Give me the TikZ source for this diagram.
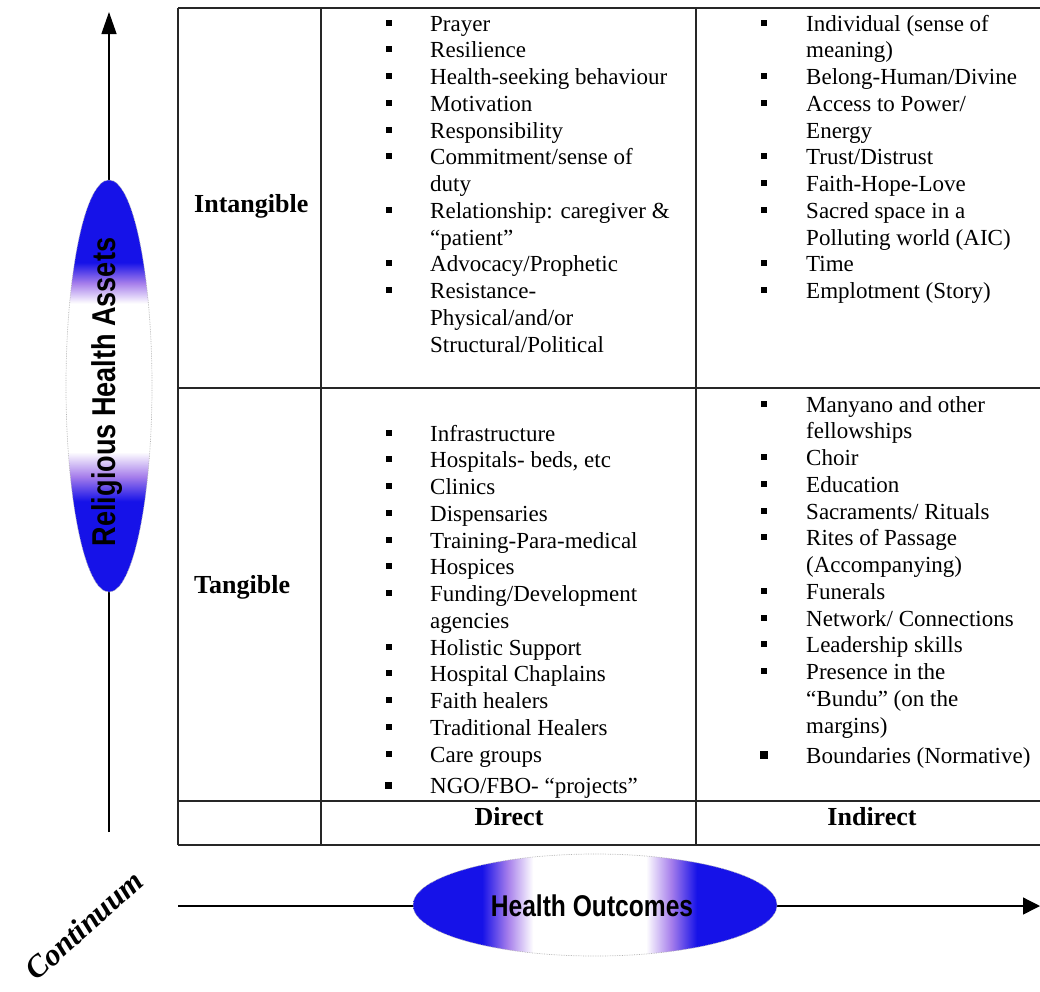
\documentclass[tikz,border=0pt]{standalone}
\usepackage{fontspec}
\setmainfont{Liberation Serif}
\newfontfamily\narrowsans[FakeStretch=0.82]{Liberation Sans}
\usetikzlibrary{shapes.geometric,arrows.meta}
\definecolor{hb}{RGB}{22,18,232}
\definecolor{hmid}{RGB}{165,125,235}
\pgfdeclareverticalshading{rhaV}{100bp}{color(0bp)=(hb); color(36bp)=(hb); color(39bp)=(hmid); color(42bp)=(white); color(60bp)=(white); color(62.5bp)=(hmid); color(65bp)=(hb); color(100bp)=(hb)}
\pgfdeclarehorizontalshading{hoH}{100bp}{color(0bp)=(hb); color(34.5bp)=(hb); color(38bp)=(hmid); color(41.5bp)=(white); color(57bp)=(white); color(60.5bp)=(hmid); color(64bp)=(hb); color(100bp)=(hb)}
\newcommand{\listfont}{\fontsize{23}{26.75}\selectfont}
\newcommand{\headfont}{\bfseries\fontsize{26}{30}\selectfont}
\newcommand{\sqb}{\hspace*{5.5pt}\rule[5.5pt]{6pt}{6pt}}
\newcommand{\sqc}{\hspace*{4.5pt}\rule[5.5pt]{6pt}{6pt}}
\newcommand{\sqbb}{\hspace*{5pt}\rule[5pt]{7pt}{7pt}}
\newcommand{\sqcc}{\hspace*{4pt}\rule[4.5pt]{8pt}{8pt}}
\begin{document}
\begin{tikzpicture}[x=1pt,y=-1pt,
  grid/.style={line width=1.3pt, draw=black!85},
  axis/.style={line width=1.3pt, draw=black},
  cell/.style={anchor=base west, inner sep=0pt, font=\listfont},
  head/.style={inner sep=0pt, font=\headfont},
  blob/.style={ellipse, shade, inner sep=0pt, draw=black!30, densely dotted, line width=0.7pt}]
\useasboundingbox (0,0) rectangle (1040,991);

% table grid
\draw[grid] (178,8) -- (1040,8);
\draw[grid] (178,388) -- (1040,388);
\draw[grid] (178,801) -- (1040,801);
\draw[grid] (178,845) -- (1040,845);
\draw[grid] (178,8) -- (178,845);
\draw[grid] (321,8) -- (321,845);
\draw[grid] (696,8) -- (696,845);

% row / column headings
\node[head, anchor=base west] (lint) at (194,212) {Intangible};
\node[head, anchor=base west] (ltan) at (194,593) {Tangible};
\node[head, anchor=base] (ldir) at (509,825) {Direct};
\node[head, anchor=base] (lind) at (872,825) {Indirect};

% cells
\node[cell] (intdir) at (380,31) {\begin{tabular}[t]{@{}p{50pt}@{}l@{}}
\sqb & Prayer\\
\sqb & Resilience\\
\sqb & Health-seeking behaviour\\
\sqb & Motivation\\
\sqb & Responsibility\\
\sqb & Commitment/sense of\\
 & duty\\
\sqb & Relationship: caregiver \&\\
 & ``patient''\\
\sqb & Advocacy/Prophetic\\
\sqb & Resistance-\\
 & Physical/and/or\\
 & Structural/Political
\end{tabular}};

\node[cell] (intind) at (756,31) {\begin{tabular}[t]{@{}p{50pt}@{}l@{}}
\sqc & Individual (sense of\\
 & meaning)\\
\sqc & Belong-Human/Divine\\
\sqc & Access to Power/\\
 & Energy\\
\sqc & Trust/Distrust\\
\sqc & Faith-Hope-Love\\
\sqc & Sacred space in a\\
 & Polluting world (AIC)\\
\sqc & Time\\
\sqc & Emplotment (Story)
\end{tabular}};

\node[cell] (tandir) at (380,441) {\begin{tabular}[t]{@{}p{50pt}@{}l@{}}
\sqb & Infrastructure\\
\sqb & Hospitals- beds, etc\\
\sqb & Clinics\\
\sqb & Dispensaries\\
\sqb & Training-Para-medical\\
\sqb & Hospices\\
\sqb & Funding/Development\\
 & agencies\\
\sqb & Holistic Support\\
\sqb & Hospital Chaplains\\
\sqb & Faith healers\\
\sqb & Traditional Healers\\
\sqb & Care groups\\[5pt]
\sqbb & NGO/FBO- ``projects''
\end{tabular}};

\node[cell] (tanind) at (756,412) {\begin{tabular}[t]{@{}p{50pt}@{}l@{}}
\sqc & Manyano and other\\
 & fellowships\\
\sqc & Choir\\
\sqc & Education\\
\sqc & Sacraments/ Rituals\\
\sqc & Rites of Passage\\
 & (Accompanying)\\
\sqc & Funerals\\
\sqc & Network/ Connections\\
\sqc & Leadership skills\\
\sqc & Presence in the\\
 & ``Bundu'' (on the\\
 & margins)\\[3.5pt]
\sqcc & Boundaries (Normative)
\end{tabular}};

% axes
\coordinate (vs) at (109,832);
\coordinate (ve) at (109,12);
\draw[axis, -{Triangle[length=22pt,width=15pt]}] (vs) -- (ve);
\coordinate (hs) at (178,906);
\coordinate (he) at (1040,906);
\draw[axis, -{Triangle[length=17pt,width=17pt]}] (hs) -- (he);

% ellipses
\node[blob, shading=rhaV, minimum width=86pt, minimum height=412pt] (rha) at (109,386) {};
\node[rotate=90, inner sep=0pt, font=\narrowsans\bfseries\fontsize{33}{33}\selectfont] (rhat) at (107,392) {Religious Health Assets};
\node[blob, shading=hoH, minimum width=364pt, minimum height=102pt] (ho) at (595,905) {};
\node[inner sep=0pt, font=\narrowsans\bfseries\fontsize{30}{30}\selectfont] (hot) at (592,906) {Health Outcomes};

% continuum label
\node[rotate=42, inner sep=0pt, font=\bfseries\itshape\fontsize{31}{31}\selectfont] (cont) at (84,925) {Continuum};
\end{tikzpicture}
\end{document}
